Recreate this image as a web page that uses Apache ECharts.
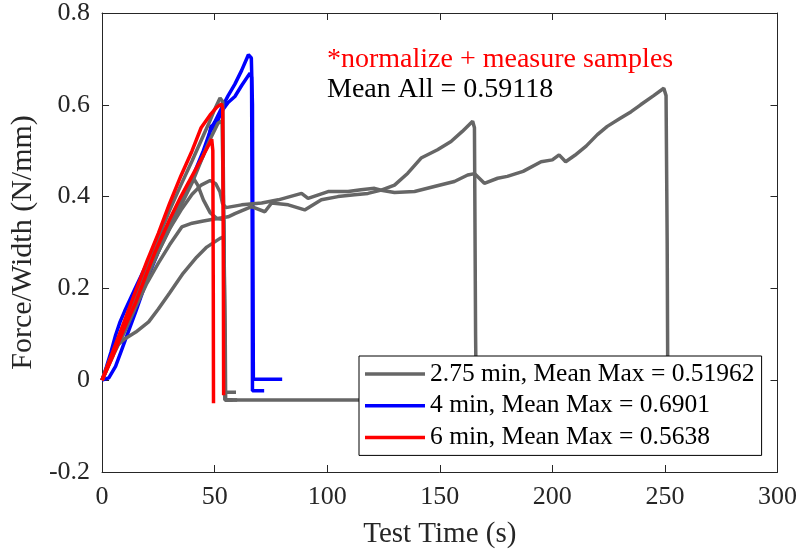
<!DOCTYPE html>
<html>
<head>
<meta charset="utf-8">
<script src="https://cdn.jsdelivr.net/npm/echarts@6/dist/echarts.min.js"></script>
<style>html,body{margin:0;padding:0;background:#fff}#c{width:803px;height:556px}</style>
</head>
<body>
<div id="c"></div>
<script>
// ---- data: [time (s), force/width (N/mm)] ----
const legendNames = ['2.75 min, Mean Max = 0.51962', '4 min, Mean Max = 0.6901', '6 min, Mean Max = 0.5638'];
const annotRed = '*normalize + measure samples';
const annotBlack = 'Mean All = 0.59118';
const xTicks = [0, 50, 100, 150, 200, 250, 300];
const yTicks = [-0.2, 0, 0.2, 0.4, 0.6, 0.8];

// 4 min samples
const blue1 = [[0,0],[2,0.03],[4,0.062],[6,0.098],[8,0.127],[10,0.15],[15,0.203],[20,0.255],[25,0.3],[30,0.345],[35,0.395],[40,0.44],[45,0.5],[48.7,0.552],[50,0.562],[53,0.592],[56,0.62],[59,0.645],[62,0.675],[65,0.709],[66.3,0.702],[66.8,0.6],[67.2,0.002],[80,0.002]];
const blue2 = [[0,0],[3,0.005],[6,0.03],[9,0.07],[12,0.11],[15,0.15],[20,0.22],[25,0.28],[30,0.34],[35,0.392],[40,0.44],[45,0.49],[47,0.52],[48.5,0.556],[49.5,0.545],[51,0.56],[53,0.585],[56,0.605],[59,0.618],[62,0.642],[65.7,0.669],[66.4,0.66],[66.7,0.3],[66.8,-0.023],[72,-0.023]];

// 2.75 min samples
const grayA = [[0,0],[3,0.035],[6,0.075],[10,0.125],[15,0.185],[20,0.25],[25,0.31],[30,0.37],[35,0.425],[40,0.478],[45,0.533],[48,0.566],[50,0.59],[52.4,0.615],[53.6,0.607],[54.3,0.2],[54.7,-0.026],[59.5,-0.026]];
const grayB = [[0,0],[4,0.05],[8,0.1],[12,0.14],[16,0.18],[20,0.225],[25,0.28],[30,0.33],[35,0.38],[40,0.43],[45,0.49],[48,0.525],[51.5,0.56],[53.3,0.565],[54.2,0.3],[54.6,-0.043],[166,-0.043]];
const grayC = [[0,0],[3,0.04],[6.6,0.075],[10,0.09],[15,0.105],[20.7,0.127],[25,0.155],[30,0.19],[36,0.233],[42,0.268],[46.5,0.29],[52.4,0.309],[54,0.312],[54.6,-0.043],[60,-0.043]];
const grayD = [[0,0],[5,0.06],[10,0.12],[15,0.178],[20,0.235],[25,0.29],[30,0.345],[35,0.395],[38.5,0.43],[40.6,0.44],[42.5,0.425],[45,0.393],[48,0.365],[51,0.352],[54,0.35],[54.7,0.1],[54.9,-0.043],[58,-0.043]];
const grayL1 = [[0,0],[5,0.055],[10,0.105],[15,0.16],[19.9,0.211],[25,0.255],[30,0.295],[35.4,0.334],[40,0.342],[45,0.347],[50,0.351],[56,0.356],[59,0.363],[66.4,0.378],[72.3,0.367],[75.3,0.386],[82.7,0.382],[90,0.371],[97.4,0.393],[104.8,0.4],[112.2,0.404],[118.1,0.407],[124,0.414],[129.9,0.425],[135.8,0.451],[141.7,0.484],[149,0.502],[155,0.52],[160,0.542],[164.6,0.564],[165.4,0.55],[165.9,0.1],[166.2,-0.043],[167,-0.043]];
const grayL2 = [[0,0],[5,0.06],[10,0.12],[15,0.175],[20,0.23],[25,0.28],[30,0.33],[35,0.37],[40,0.405],[44,0.425],[48,0.435],[50.5,0.428],[52.4,0.41],[53.5,0.385],[55,0.376],[62,0.382],[70.9,0.386],[78.3,0.393],[88.6,0.407],[91.5,0.396],[100.4,0.411],[109.3,0.411],[115,0.415],[121,0.418],[124,0.414],[129.9,0.409],[138.8,0.411],[147.6,0.422],[156.5,0.433],[162.4,0.447],[165.5,0.45],[169.8,0.429],[175.7,0.44],[180,0.444],[187,0.455],[195,0.476],[200,0.48],[203,0.491],[205.9,0.476],[210,0.49],[215,0.51],[220,0.535],[224.4,0.553],[230,0.57],[235,0.585],[239.2,0.6],[245,0.62],[249.5,0.636],[250.5,0.62],[251,0.3],[251.3,-0.043],[252,-0.043]];

// 6 min samples
const red1 = [[0,0],[5,0.065],[10,0.13],[15,0.195],[20,0.26],[25,0.32],[30,0.385],[35,0.445],[40,0.5],[44,0.55],[48,0.578],[51,0.595],[53.1,0.602],[53.6,0.59],[53.9,0.2],[54,-0.033]];
const red2 = [[0,0],[5,0.055],[10,0.115],[15,0.17],[20,0.235],[23.6,0.28],[30,0.35],[35,0.4],[40,0.445],[45,0.49],[48.7,0.525],[49.2,0.5],[49.4,0.2],[49.5,-0.05]];

const grayCurves = [grayA, grayB, grayC, grayD, grayL1, grayL2];
const blueCurves = [blue1, blue2];
const redCurves = [red1, red2];

const FONT = '"Liberation Serif", "Times New Roman", serif';
const AX = '#262626';

function mk(name, color, data) {
  return {
    type: 'line', name: name, data: data, showSymbol: false, symbol: 'none',
    lineStyle: {color: color, width: 3.5}, itemStyle: {color: color},
    animation: false, z: 2
  };
}
const series = [];
blueCurves.forEach(d => series.push(mk(legendNames[1], '#0000ff', d)));
grayCurves.forEach(d => series.push(mk(legendNames[0], '#666666', d)));
redCurves.forEach(d => series.push(mk(legendNames[2], '#ff0000', d)));

const fmt = v => String(Math.round(v * 10) / 10);

const chart = echarts.init(document.getElementById('c'), null, {renderer: 'canvas'});
chart.setOption({
  animation: false,
  backgroundColor: '#ffffff',
  grid: {left: 100, right: 25.5, top: 13, bottom: 84, containLabel: false},
  xAxis: [{
    type: 'value', min: xTicks[0], max: xTicks[xTicks.length - 1], interval: 50,
    name: 'Test Time (s)', nameLocation: 'middle', nameGap: 48,
    nameTextStyle: {fontFamily: FONT, fontSize: 29, color: AX},
    axisLine: {onZero: false, lineStyle: {color: AX, width: 1}},
    axisTick: {inside: true, length: 7, lineStyle: {color: AX}},
    axisLabel: {fontFamily: FONT, fontSize: 26, color: AX, margin: 12},
    splitLine: {show: false}
  }, {
    type: 'value', position: 'top', min: 0, max: 300, interval: 50,
    axisLine: {onZero: false, lineStyle: {color: AX, width: 1}},
    axisTick: {inside: true, length: 7, lineStyle: {color: AX}},
    axisLabel: {show: false}, splitLine: {show: false}
  }],
  yAxis: [{
    type: 'value', min: yTicks[0], max: yTicks[yTicks.length - 1], interval: 0.2,
    name: 'Force/Width (N/mm)', nameLocation: 'middle', nameGap: 62,
    nameTextStyle: {fontFamily: FONT, fontSize: 30, color: AX},
    axisLine: {onZero: false, lineStyle: {color: AX, width: 1}},
    axisTick: {inside: true, length: 7, lineStyle: {color: AX}},
    axisLabel: {fontFamily: FONT, fontSize: 26, color: AX, margin: 12, formatter: fmt},
    splitLine: {show: false}
  }, {
    type: 'value', position: 'right', min: -0.2, max: 0.8, interval: 0.2,
    axisLine: {onZero: false, lineStyle: {color: AX, width: 1}},
    axisTick: {inside: true, length: 7, lineStyle: {color: AX}},
    axisLabel: {show: false}, splitLine: {show: false}
  }],
  legend: {
    data: legendNames, orient: 'vertical', left: 359, top: 356,
    icon: 'rect', itemWidth: 60, itemHeight: 3.5, itemGap: 5.7, padding: [5, 7, 5, 6],
    backgroundColor: '#ffffff', borderColor: '#000000', borderWidth: 1,
    textStyle: {fontFamily: FONT, fontSize: 25.5, lineHeight: 26, color: '#000000'},
    selectedMode: false, z: 10
  },
  graphic: [
    {type: 'text', left: 327, top: 46, z: 20, style: {text: annotRed, fontFamily: FONT, fontSize: 28, fill: '#ff0000'}},
    {type: 'text', left: 327, top: 76, z: 20, style: {text: annotBlack, fontFamily: FONT, fontSize: 28, fill: '#000000'}}
  ],
  series: series
});
</script>
</body>
</html>
